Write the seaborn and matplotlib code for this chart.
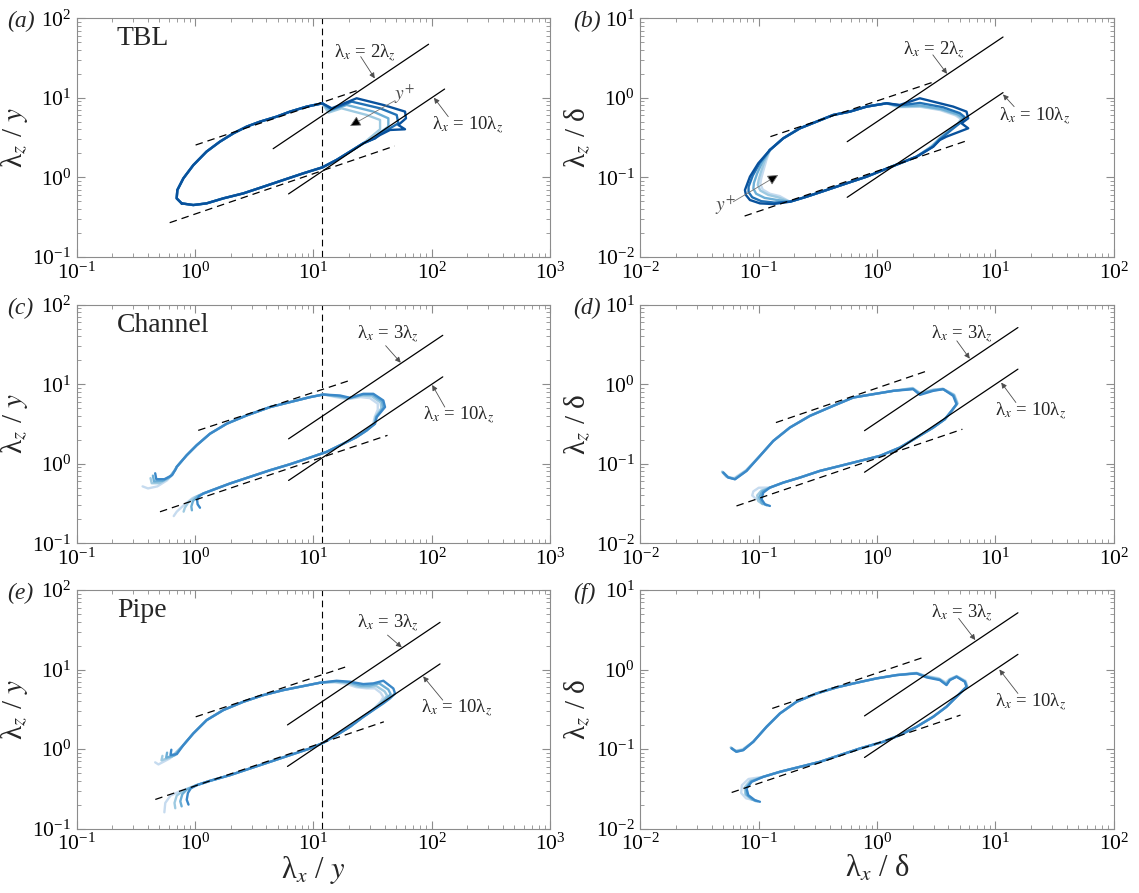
import matplotlib
matplotlib.use("Agg")
import matplotlib.pyplot as plt
import pandas as pd
import seaborn as sns

# ---------------------------------------------------------------- data
# contour pieces (x, y) in plot units
# path of one shade = head + upper + tip + lower + tail

# (a) TBL, lambda/y
A_SHADES = ["#9ecae1", "#6baed6", "#2171b5", "#08519c"]
A_UPPER = [(0.77, 0.469), (0.699, 0.542), (0.708, 0.69), (0.796, 0.968), (0.966, 1.42),
           (1.25, 2.10), (1.62, 2.80), (2.11, 3.57), (2.73, 4.33), (3.54, 5.0),
           (4.89, 5.78), (6.34, 6.68), (8.78, 7.73), (11.9, 8.5)]
A_TIPS = [
    [(13.4, 6.49), (17.3, 7.36), (28.2, 6.07), (36.6, 5.25), (36.6, 4.01), (32.1, 3.40)],
    [(13.8, 6.88), (19.1, 8.11), (32.1, 6.69), (43.0, 5.51), (43.0, 4.33), (36.6, 3.64), (32.5, 3.09)],
    [(14.3, 7.15), (21.1, 8.93), (36.6, 7.36), (50.6, 6.07), (52.2, 4.77), (44.4, 4.13), (36.6, 3.57), (33.2, 3.09)],
    [(14.3, 7.36), (23.2, 9.84), (39.0, 8.11), (59.5, 6.69), (60.6, 5.51), (52.2, 4.54),
     (59.5, 4.01), (44.4, 3.93), (36.6, 3.40), (33.2, 3.09)],
]
A_LOWER = [(26.4, 2.67), (20.4, 2.10), (15.7, 1.65), (11.9, 1.33), (8.22, 1.12), (5.57, 0.923),
           (3.78, 0.76), (2.56, 0.627), (1.73, 0.542), (1.25, 0.469), (0.966, 0.447)]

# (b) TBL, lambda/delta
B_SHADES = ["#c6dbef", "#9ecae1", "#6baed6", "#2171b5", "#08519c"]
B_UPPER = [(0.1242, 0.2202), (0.161, 0.3087), (0.2227, 0.4124), (0.308, 0.5003), (0.4258, 0.607),
           (0.589, 0.6687), (0.815, 0.773), (1.202, 0.851)]
B_TIPS = [
    [(1.50, 0.76), (2.3, 0.77), (3.4, 0.70), (4.6, 0.60), (5.1, 0.54), (4.8, 0.47), (4.0, 0.385), (3.3, 0.30), (2.9, 0.24)],
    [(1.52, 0.77), (2.3, 0.78), (3.45, 0.71), (4.7, 0.61), (5.2, 0.55), (4.9, 0.48), (4.1, 0.39), (3.35, 0.30), (2.9, 0.245)],
    [(1.558, 0.78), (2.3, 0.80), (3.5, 0.72), (4.8, 0.62), (5.3, 0.56), (5.0, 0.49), (4.2, 0.40), (3.4, 0.31), (2.9, 0.245)],
    [(1.558, 0.80), (2.3, 0.86), (3.6, 0.76), (5.0, 0.64), (5.5, 0.57), (5.2, 0.50), (4.3, 0.40), (3.4, 0.30), (2.98, 0.2424)],
    [(1.558, 0.811), (2.30, 0.984), (2.98, 0.893), (4.40, 0.773), (5.70, 0.6687), (5.89, 0.551),
     (5.17, 0.477), (5.89, 0.4124), (3.86, 0.324), (3.39, 0.294), (2.98, 0.2424)],
]
B_LOWER = [(2.16, 0.1815), (1.558, 0.1496), (1.127, 0.1233), (0.815, 0.1016), (0.552, 0.0838),
           (0.374, 0.069), (0.2535, 0.0569), (0.1833, 0.0492)]
B_NOSES = [
    [(0.15, 0.058), (0.124, 0.062), (0.108, 0.070), (0.103, 0.083), (0.105, 0.097), (0.11, 0.125), (0.116, 0.165)],
    [(0.145, 0.056), (0.12, 0.06), (0.103, 0.068), (0.098, 0.08), (0.1, 0.094), (0.105, 0.12), (0.112, 0.16)],
    [(0.14, 0.052), (0.112, 0.055), (0.095, 0.062), (0.09, 0.072), (0.091, 0.085), (0.097, 0.112), (0.107, 0.155)],
    [(0.135, 0.048), (0.105, 0.050), (0.088, 0.056), (0.082, 0.065), (0.082, 0.076), (0.089, 0.105), (0.102, 0.152)],
    [(0.1326, 0.046), (0.1023, 0.0469), (0.0842, 0.0517), (0.0779, 0.0597), (0.0764, 0.069),
     (0.0842, 0.1016), (0.099, 0.1496)],
]

# (c) channel, lambda/y
C_SHADES = ["#c6dbef", "#9ecae1", "#6baed6", "#3a88c8"]
C_HEADS = [
    [(0.36, 0.52), (0.40, 0.49), (0.48, 0.52), (0.58, 0.62), (0.66, 0.80)],
    [(0.42, 0.66), (0.43, 0.57), (0.50, 0.57), (0.60, 0.66), (0.67, 0.82)],
    [(0.44, 0.71), (0.45, 0.60), (0.53, 0.61), (0.62, 0.69), (0.68, 0.84)],
    [(0.46, 0.76), (0.47, 0.64), (0.55, 0.64), (0.64, 0.72), (0.69, 0.87)],
]
C_UPPER = [(0.699, 0.914), (0.849, 1.28), (1.031, 1.71), (1.337, 2.39), (1.849, 3.19), (2.73, 4.06),
           (4.30, 5.17), (6.34, 5.97), (9.36, 6.89), (12.13, 7.44)]
C_TIPS = [
    [(15.5, 6.9), (19.5, 6.5), (25, 6.9), (30, 6.7), (35, 5.7), (35, 4.8), (33, 3.9), (32, 3.2), (27.5, 2.6), (23, 2.15), (17.9, 1.79)],
    [(16, 7.0), (20, 6.6), (25.5, 7.2), (31, 7.1), (37, 5.9), (37.5, 5.0), (33.5, 3.9), (32.5, 3.2), (28, 2.6), (23, 2.15), (17.9, 1.79)],
    [(16.4, 7.1), (20.2, 6.7), (26, 7.4), (31.5, 7.4), (38, 6.1), (39, 5.1), (34, 3.9), (33, 3.2), (28.2, 2.63), (23.2, 2.17), (17.9, 1.79)],
    [(16.8, 7.23), (20.4, 6.76), (26.4, 7.59), (32.1, 7.59), (39.0, 6.26), (40.3, 5.17), (34.3, 3.87),
     (33.2, 3.19), (28.2, 2.63), (23.2, 2.17), (17.9, 1.79)],
]
C_LOWER = [(12.9, 1.41), (9.36, 1.197), (6.34, 0.987), (4.30, 0.83), (2.91, 0.685), (1.97, 0.565),
           (1.52, 0.489), (1.174, 0.423)]
C_TAILS = [
    [(0.95, 0.37), (0.80, 0.30), (0.70, 0.25), (0.66, 0.22)],
    [(1.0, 0.38), (0.88, 0.33), (0.82, 0.28), (0.80, 0.25)],
    [(1.05, 0.39), (0.96, 0.34), (0.93, 0.29), (0.94, 0.26)],
    [(1.08, 0.39), (1.04, 0.35), (1.05, 0.31), (1.10, 0.28)],
]

# (d) channel, lambda/delta
D_SHADES = ["#c6dbef", "#9ecae1", "#6baed6", "#3a88c8"]
D_HEADS = [
    [(0.049, 0.080), (0.053, 0.069), (0.062, 0.066), (0.078, 0.083)],
    [(0.049, 0.079), (0.054, 0.068), (0.062, 0.065), (0.078, 0.082)],
    [(0.050, 0.078), (0.055, 0.068), (0.063, 0.064), (0.079, 0.082)],
    [(0.0501, 0.0775), (0.0552, 0.0671), (0.0629, 0.0639), (0.0789, 0.0814)],
]
D_UPPER = [(0.1023, 0.1257), (0.1326, 0.194), (0.1833, 0.2857), (0.2705, 0.4007), (0.4258, 0.5356),
           (0.6286, 0.6818), (0.9274, 0.7508), (1.369, 0.827)]
D_TIPS = [
    [(2.0, 0.90), (2.3, 0.78), (3.0, 0.86), (3.6, 0.88), (4.5, 0.74), (4.8, 0.58), (4.3, 0.47), (3.74, 0.3637)],
    [(2.0, 0.89), (2.3, 0.77), (3.0, 0.85), (3.6, 0.875), (4.45, 0.73), (4.75, 0.57), (4.28, 0.466), (3.74, 0.3637)],
    [(2.0, 0.88), (2.3, 0.76), (2.98, 0.84), (3.6, 0.87), (4.45, 0.73), (4.75, 0.57), (4.28, 0.466), (3.74, 0.3637)],
    [(2.02, 0.868), (2.30, 0.736), (2.98, 0.827), (3.62, 0.868), (4.40, 0.715), (4.69, 0.562),
     (4.26, 0.463), (3.74, 0.3637)],
]
D_LOWER = [(2.98, 0.2857), (2.16, 0.2138), (1.558, 0.16), (1.056, 0.1257), (0.716, 0.1087),
           (0.485, 0.094), (0.3286, 0.0814), (0.2227, 0.0671), (0.161, 0.058), (0.1242, 0.0502)]
D_TAILS = [
    [(0.10, 0.050), (0.090, 0.045), (0.088, 0.040), (0.095, 0.036)],
    [(0.105, 0.046), (0.097, 0.040), (0.099, 0.034), (0.108, 0.031)],
    [(0.107, 0.045), (0.101, 0.038), (0.106, 0.032), (0.117, 0.030)],
    [(0.1091, 0.0434), (0.1056, 0.0358), (0.1127, 0.031), (0.1242, 0.0295)],
]

# (e) pipe, lambda/y
E_SHADES = ["#c6dbef", "#9ecae1", "#6baed6", "#3a88c8"]
E_HEADS = [
    [(0.46, 0.68), (0.49, 0.64), (0.61, 0.76)],
    [(0.53, 0.82), (0.52, 0.72), (0.64, 0.80)],
    [(0.58, 0.90), (0.57, 0.78), (0.67, 0.83)],
    [(0.63, 0.98), (0.62, 0.84), (0.70, 0.86)],
]
E_UPPER = [(0.796, 1.12), (0.966, 1.57), (1.253, 2.31), (1.733, 3.09), (2.56, 3.93), (3.78, 4.77),
           (5.57, 5.51), (8.22, 6.19), (11.37, 6.82)]
E_TIPS = [
    [(15, 6.9), (19, 6.6), (23, 6.0), (28, 5.8), (33, 5.8), (37, 5.1), (39, 4.5), (37, 3.95), (34, 3.45), (30.5, 2.95), (26.4, 2.54)],
    [(15.2, 7.0), (19.5, 6.8), (24, 6.1), (29, 6.0), (34, 6.2), (40, 5.3), (42, 4.7), (39, 4.1), (35, 3.55), (31, 3.0), (26.4, 2.54)],
    [(15.5, 7.1), (20, 6.9), (25, 6.3), (30, 6.3), (36, 6.7), (43, 5.6), (45, 4.9), (41, 4.2), (37, 3.65), (31.5, 3.05), (26.4, 2.54)],
    [(15.7, 7.22), (20.4, 7.02), (26.4, 6.56), (32.1, 6.69), (39.0, 7.22), (47.4, 5.78), (49.0, 5.0),
     (44.4, 4.33), (39.0, 3.75), (32.1, 3.09), (26.4, 2.54)],
]
E_LOWER = [(20.4, 1.905), (15.7, 1.496), (12.13, 1.198), (9.36, 1.016), (6.34, 0.838), (4.30, 0.69),
           (2.91, 0.569), (1.97, 0.469), (1.337, 0.398), (1.031, 0.351)]
E_TAILS = [
    [(0.75, 0.295), (0.62, 0.26), (0.56, 0.21), (0.55, 0.16)],
    [(0.80, 0.30), (0.70, 0.26), (0.67, 0.21), (0.68, 0.18)],
    [(0.85, 0.31), (0.78, 0.27), (0.75, 0.22), (0.77, 0.19)],
    [(0.92, 0.32), (0.87, 0.28), (0.85, 0.23), (0.88, 0.20)],
]

# (f) pipe, lambda/delta
F_SHADES = ["#c6dbef", "#9ecae1", "#6baed6", "#3a88c8"]
F_HEADS = [
    [(0.058, 0.105), (0.063, 0.095), (0.073, 0.099)],
    [(0.058, 0.104), (0.064, 0.094), (0.073, 0.098)],
    [(0.059, 0.103), (0.064, 0.093), (0.074, 0.097)],
    [(0.0589, 0.1016), (0.0649, 0.0923), (0.0739, 0.0968)],
]
F_UPPER = [(0.0898, 0.1233), (0.1164, 0.1905), (0.151, 0.2802), (0.2087, 0.393), (0.308, 0.5003),
           (0.4544, 0.5954), (0.6707, 0.6817), (0.9897, 0.773), (1.461, 0.851)]
F_TIPS = [
    [(2.15, 0.91), (2.6, 0.83), (3.3, 0.78), (3.8, 0.69), (4.1, 0.76), (4.7, 0.83), (5.6, 0.72), (5.8, 0.62), (5.1, 0.51), (4.45, 0.42), (3.86, 0.34)],
    [(2.15, 0.90), (2.6, 0.82), (3.35, 0.76), (3.83, 0.67), (4.1, 0.75), (4.7, 0.82), (5.55, 0.71), (5.75, 0.615), (5.05, 0.505), (4.42, 0.416), (3.86, 0.34)],
    [(2.156, 0.90), (2.61, 0.81), (3.38, 0.75), (3.85, 0.65), (4.12, 0.74), (4.7, 0.815), (5.52, 0.705), (5.72, 0.61), (5.02, 0.502), (4.41, 0.414), (3.86, 0.34)],
    [(2.156, 0.893), (2.618, 0.796), (3.394, 0.736), (3.864, 0.637), (4.122, 0.736), (4.694, 0.811),
     (5.52, 0.702), (5.70, 0.607), (5.01, 0.5003), (4.40, 0.4124), (3.86, 0.34)],
]
F_LOWER = [(2.98, 0.2544), (2.156, 0.1905), (1.558, 0.1496), (1.127, 0.1233), (0.716, 0.1016),
           (0.485, 0.0838), (0.3286, 0.069), (0.2227, 0.0597), (0.151, 0.0517), (0.1091, 0.0447)]
F_TAILS = [
    [(0.082, 0.042), (0.072, 0.035), (0.071, 0.028), (0.078, 0.024), (0.088, 0.023)],
    [(0.085, 0.040), (0.076, 0.033), (0.077, 0.027), (0.086, 0.0235), (0.095, 0.022)],
    [(0.086, 0.039), (0.078, 0.032), (0.079, 0.0265), (0.089, 0.023), (0.098, 0.022)],
    [(0.087, 0.0387), (0.0789, 0.0319), (0.0815, 0.0263), (0.0928, 0.0227), (0.1023, 0.0217)],
]

# reference lines: dashed slope-1/2 fits and solid aspect-ratio lines
A_DASH = [((1.01, 2.54), (23.4, 12.3)), ((0.61, 0.268), (48.6, 2.47))]
B_DASH = [((0.1254, 0.324), (3.07, 1.595)), ((0.0759, 0.0325), (5.98, 0.294))]
C_DASH = [((1.063, 2.63), (21.1, 11.4)), ((0.505, 0.249), (42.3, 2.28))]
D_DASH = [((0.1396, 0.330), (2.66, 1.476)), ((0.0648, 0.0295), (5.26, 0.272))]
E_DASH = [((1.012, 2.54), (19.7, 11.05)), ((0.461, 0.232), (39.4, 2.2))]
F_DASH = [((0.13, 0.324), (2.56, 1.45)), ((0.059, 0.0284), (5.07, 0.267))]

A_SOLID = [((4.57, 2.285), (94.1, 47.05)), ((6.17, 0.617), (128.5, 12.85))]
B_SOLID = [((0.559, 0.28), (11.6, 5.8)), ((0.559, 0.0559), (11.6, 1.16))]
C_SOLID = [((6.17, 2.06), (124, 41.3)), ((6.17, 0.617), (124, 12.4))]
D_SOLID = [((0.783, 0.261), (15.5, 5.17)), ((0.783, 0.0783), (15.5, 1.55))]
E_SOLID = [((6.04, 2.01), (117.6, 39.2)), ((6.04, 0.604), (117.6, 11.76))]
F_SOLID = [((0.783, 0.261), (15.5, 5.17)), ((0.783, 0.0783), (15.5, 1.55))]

# labels: (text, text position, arrow start, arrow head)
A_NOTES = [("λ$_x$ = 2λ$_z$", (14.9, 36.2), (25.1, 32.9), (33, 17.5)),
           ("λ$_x$ = 10λ$_z$", (101, 4.54), (138, 5.78), (104.5, 10.0))]
B_NOTES = [("λ$_x$ = 2λ$_z$", (1.665, 3.99), (2.96, 3.46), (3.9, 2.0)),
           ("λ$_x$ = 10λ$_z$", (10.8, 0.578), (14.4, 0.773), (11.6, 1.1))]
C_NOTES = [("λ$_x$ = 3λ$_z$", (23.4, 42.9), (40.8, 30.6), (54.7, 18.7)),
           ("λ$_x$ = 10λ$_z$", (84.7, 4.06), (129, 5.17), (101, 9.8))]
D_NOTES = [("λ$_x$ = 3λ$_z$", (2.85, 4.27), (4.72, 3.52), (6.07, 2.1)),
           ("λ$_x$ = 10λ$_z$", (10.0, 0.463), (14.9, 0.59), (11.2, 1.05))]
E_NOTES = [("λ$_x$ = 3λ$_z$", (23.4, 38.1), (42.3, 27.1), (55.8, 19.0)),
           ("λ$_x$ = 10λ$_z$", (81.8, 3.24), (124, 4.12), (84.7, 8.2))]
F_NOTES = [("λ$_x$ = 3λ$_z$", (2.85, 5.08), (4.89, 4.4), (6.76, 2.35)),
           ("λ$_x$ = 10λ$_z$", (10, 0.393), (15.5, 0.5), (10.8, 1.0))]

# y+ arrows of the TBL panels: (text pos, arrow start, arrow head)
A_YPLUS = ((59, 11.1), (49, 9.2), (20.4, 4.41))
B_YPLUS = ((0.052, 0.045), (0.0609, 0.0492), (0.146, 0.1066))

FLOW_NAMES = ["TBL", "Channel", "Pipe"]
PANEL_TAGS = ["(a)", "(b)", "(c)", "(d)", "(e)", "(f)"]
X_MARK = 11.9   # vertical dashed line, left panels

# ---------------------------------------------------------------- style
sns.set_style("ticks")
plt.rcParams["font.family"] = ["Liberation Serif", "DejaVu Serif"]
plt.rcParams["mathtext.fontset"] = "stix"

fig = plt.figure(figsize=(11.39, 8.93), dpi=100)

LEFT_COL, RIGHT_COL, WIDTH = 0.0674, 0.5623, 0.4155
BOTTOMS, HEIGHT = [0.7125, 0.3916, 0.0722], 0.2671
FRAME = "0.55"


def setup(ax, xlim, ylim):
    ax.set_xscale("log")
    ax.set_yscale("log")
    ax.set_xlim(*xlim)
    ax.set_ylim(*ylim)
    ax.tick_params(which="both", direction="in", top=True, right=True,
                   colors=FRAME, labelcolor="k", labelsize=15.5)
    ax.tick_params(which="major", length=6, width=0.8, pad=4)
    ax.tick_params(which="minor", length=3, width=0.6)
    for sp in ax.spines.values():
        sp.set_color(FRAME)
        sp.set_linewidth(0.8)


def draw_contours(ax, shades, upper, tips, lower, heads=None, tails=None, closed=False):
    n = len(shades)
    heads = heads or [[] for _ in range(n)]
    tails = tails or [[] for _ in range(n)]
    for col, h, t, tl in zip(shades, heads, tips, tails):
        pts = list(h) + upper + list(t) + lower + list(tl)
        if closed:
            pts = pts + pts[:1]
        df = pd.DataFrame(pts, columns=["x", "y"])
        sns.lineplot(data=df, x="x", y="y", sort=False, estimator=None,
                     color=col, linewidth=1.7, ax=ax)


def draw_refs(ax, dashed, solid, notes):
    for (x0, y0), (x1, y1) in dashed:
        ax.plot([x0, x1], [y0, y1], color="k", lw=0.9, ls=(0, (6, 4)))
    for (x0, y0), (x1, y1) in solid:
        ax.plot([x0, x1], [y0, y1], color="k", lw=0.9)
    for label, txt, start, head in notes:
        ax.text(txt[0], txt[1], label, fontsize=13.5, ha="left", va="center")
        ax.annotate("", xy=head, xytext=start,
                    arrowprops=dict(arrowstyle="-|>", color="0.3", lw=0.6,
                                    mutation_scale=8, shrinkA=0, shrinkB=0))


def yplus(ax, spec):
    txt, start, head = spec
    ax.text(txt[0], txt[1], "$y^{+}$", fontsize=14, ha="center", va="center", color="0.3")
    ax.annotate("", xy=head, xytext=start,
                arrowprops=dict(arrowstyle="-|>", ec="0.45", fc="k", lw=0.6,
                                mutation_scale=16, shrinkA=0, shrinkB=0))


panels = [
    dict(shades=A_SHADES, upper=A_UPPER, tips=A_TIPS, lower=A_LOWER, closed=True,
         dash=A_DASH, solid=A_SOLID, notes=A_NOTES),
    dict(shades=B_SHADES, upper=B_UPPER, tips=B_TIPS, lower=B_LOWER, tails=B_NOSES, closed=True,
         dash=B_DASH, solid=B_SOLID, notes=B_NOTES),
    dict(shades=C_SHADES, upper=C_UPPER, tips=C_TIPS, lower=C_LOWER, heads=C_HEADS, tails=C_TAILS,
         dash=C_DASH, solid=C_SOLID, notes=C_NOTES),
    dict(shades=D_SHADES, upper=D_UPPER, tips=D_TIPS, lower=D_LOWER, heads=D_HEADS, tails=D_TAILS,
         dash=D_DASH, solid=D_SOLID, notes=D_NOTES),
    dict(shades=E_SHADES, upper=E_UPPER, tips=E_TIPS, lower=E_LOWER, heads=E_HEADS, tails=E_TAILS,
         dash=E_DASH, solid=E_SOLID, notes=E_NOTES),
    dict(shades=F_SHADES, upper=F_UPPER, tips=F_TIPS, lower=F_LOWER, heads=F_HEADS, tails=F_TAILS,
         dash=F_DASH, solid=F_SOLID, notes=F_NOTES),
]

for i, p in enumerate(panels):
    row, col = divmod(i, 2)
    left = LEFT_COL if col == 0 else RIGHT_COL
    ax = fig.add_axes([left, BOTTOMS[row], WIDTH, HEIGHT])
    if col == 0:
        setup(ax, (1e-1, 1e3), (1e-1, 1e2))
        ax.axvline(X_MARK, color="k", lw=0.8, ls=(0, (6, 4)))
        ax.text(0.085, 0.915, FLOW_NAMES[row], transform=ax.transAxes,
                fontsize=20, ha="left", va="center")
    else:
        setup(ax, (1e-2, 1e2), (1e-2, 1e1))

    draw_contours(ax, p["shades"], p["upper"], p["tips"], p["lower"],
                  heads=p.get("heads"), tails=p.get("tails"), closed=p.get("closed", False))
    draw_refs(ax, p["dash"], p["solid"], p["notes"])

    ax.set_ylabel("λ$_z$ / $y$" if col == 0 else "λ$_z$ / δ", fontsize=21, labelpad=2)
    if row == 2:
        ax.set_xlabel("λ$_x$ / $y$" if col == 0 else "λ$_x$ / δ", fontsize=22, labelpad=-1)
    else:
        ax.set_xlabel("")

    if i == 0:
        yplus(ax, A_YPLUS)
    if i == 1:
        yplus(ax, B_YPLUS)

    tag_x = 0.006 if col == 0 else 0.503
    fig.text(tag_x, BOTTOMS[row] + HEIGHT - 0.004, PANEL_TAGS[i], fontsize=17,
             fontstyle="italic", ha="left", va="center")

fig.savefig("out.png", dpi=100)
